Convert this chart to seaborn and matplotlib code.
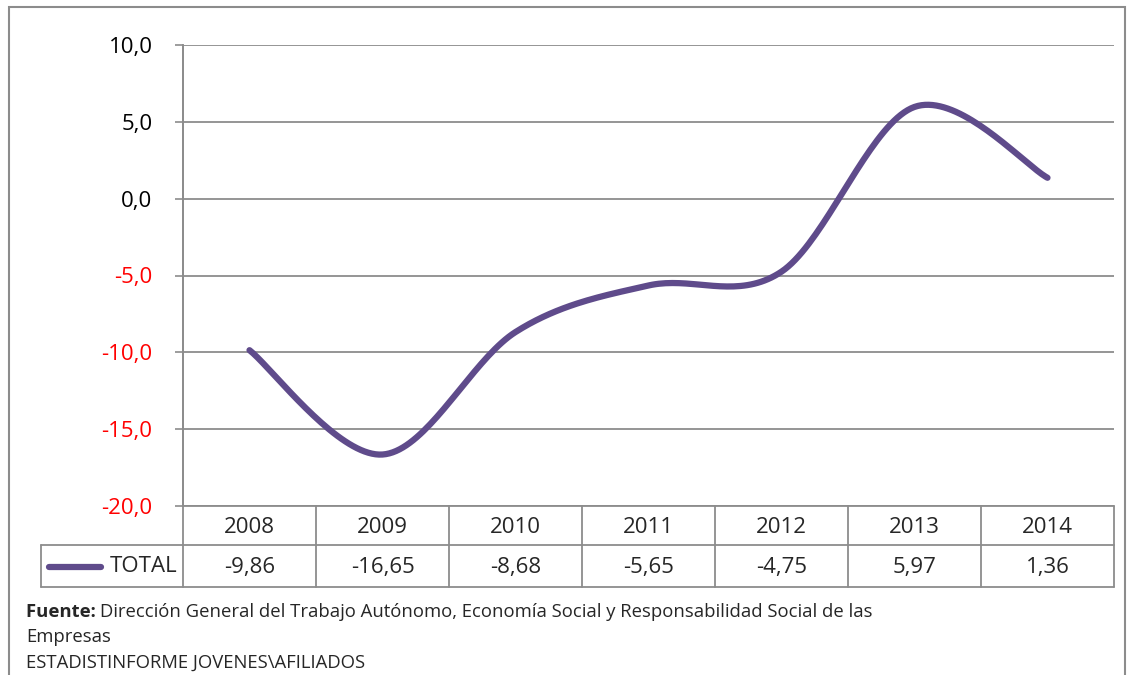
import numpy as np
import pandas as pd
import matplotlib
matplotlib.use("Agg")
import matplotlib.pyplot as plt
from matplotlib.lines import Line2D
from matplotlib.patches import Rectangle
import seaborn as sns

# datos
years = ["2008", "2009", "2010", "2011", "2012", "2013", "2014"]
total = [-9.86, -16.65, -8.68, -5.65, -4.75, 5.97, 1.36]
yticks = [-20, -15, -10, -5, 0, 5, 10]
series_name = "TOTAL"

W, H = 1127, 675
LINE_COLOR = "#5F4B8B"
GRID = "#8C8C8C"
FS = 16
FS_NOTE = 13.3

sns.set_theme(style="white")
plt.rcParams["font.family"] = ["Open Sans", "DejaVu Sans"]


def fmt(v, nd):
    return f"{v:.{nd}f}".replace(".", ",")


def smooth(xs, ys, n=40):
    # Excel-like smoothed line (Catmull-Rom / Bezier, tangent = (P[i+1]-P[i-1])/6)
    P = np.column_stack([xs, ys]).astype(float)
    pts = []
    for i in range(len(P) - 1):
        p0 = P[i - 1] if i > 0 else P[i]
        p1, p2 = P[i], P[i + 1]
        p3 = P[i + 2] if i + 2 < len(P) else P[i + 1]
        c1 = p1 + (p2 - p0) / 6
        c2 = p2 - (p3 - p1) / 6
        t = np.linspace(0, 1, n)[:, None]
        seg = (1 - t) ** 3 * p1 + 3 * (1 - t) ** 2 * t * c1 + 3 * (1 - t) * t ** 2 * c2 + t ** 3 * p2
        pts.append(seg if i == 0 else seg[1:])
    return np.vstack(pts)


def fx(x):
    return x / W


def fy(y):
    return 1 - y / H


fig = plt.figure(figsize=(W / 100, H / 100), dpi=100)
ax = fig.add_axes([fx(183), fy(506), fx(1114) - fx(183), fy(45) - fy(506)])

curve = smooth(np.arange(len(total)), total)
df = pd.DataFrame({"x": curve[:, 0], "y": curve[:, 1]})
sns.lineplot(data=df, x="x", y="y", ax=ax, color=LINE_COLOR, linewidth=4.5,
             sort=False, estimator=None, solid_capstyle="round")

ax.set_xlim(-0.5, len(years) - 0.5)
ax.set_ylim(-20, 10)
ax.set_xticks([])
ax.set_xlabel("")
ax.set_ylabel("")
ax.set_yticks(yticks)
ax.set_yticklabels([fmt(v, 1) for v in yticks], fontsize=FS)
for lab, v in zip(ax.get_yticklabels(), yticks):
    lab.set_color("#FF0000" if v < 0 else "black")
ax.tick_params(axis="y", left=True, length=6, width=1.2, color=GRID, pad=16)
for y in yticks:
    ax.axhline(y, color=GRID, linewidth=1.3, zorder=0)
for s in ["top", "right", "bottom"]:
    ax.spines[s].set_visible(False)
ax.spines["left"].set_color(GRID)
ax.spines["left"].set_linewidth(1.3)


def fline(x0, y0, x1, y1):
    fig.add_artist(Line2D([fx(x0), fx(x1)], [fy(y0), fy(y1)], color=GRID,
                          linewidth=1.3, transform=fig.transFigure))


# tabla de datos
left, right, col_w = 183, 1114, (1114 - 183) / 7
r0, r1, r2 = 506, 545, 587
fline(left, r0, right, r0)
fline(41, r1, right, r1)
fline(41, r2, right, r2)
fline(41, r1, 41, r2)
for i in range(len(years) + 1):
    x = left + i * col_w
    fline(x, r0 if i > 0 else 45, x, r2)
for i, (yr, v) in enumerate(zip(years, total)):
    cx = left + (i + 0.5) * col_w
    fig.text(fx(cx), fy((r0 + r1) / 2 + 2), yr, ha="center", va="center", fontsize=FS)
    fig.text(fx(cx), fy((r1 + r2) / 2 + 1), fmt(v, 2), ha="center", va="center", fontsize=FS)
fig.text(fx(177), fy((r1 + r2) / 2 + 1), series_name, ha="right", va="center", fontsize=FS)
fig.add_artist(Line2D([fx(49), fx(101)], [fy(567), fy(567)], color=LINE_COLOR,
                      linewidth=4.5, solid_capstyle="round", transform=fig.transFigure))

# borde del gráfico
fig.add_artist(Rectangle((fx(9), fy(700)), fx(1125) - fx(9), fy(7) - fy(700),
                         fill=False, edgecolor=GRID, linewidth=1.5,
                         transform=fig.transFigure))

# fuente
t = fig.text(fx(26), fy(612), "Fuente: ", fontsize=FS_NOTE, fontweight="bold", va="center")
fig.canvas.draw()
bb = t.get_window_extent()
fig.text(bb.x1 / W, fy(612),
         "Dirección General del Trabajo Autónomo, Economía Social y Responsabilidad Social de las",
         fontsize=FS_NOTE, va="center")
fig.text(fx(26), fy(637), "Empresas", fontsize=FS_NOTE, va="center")
fig.text(fx(26), fy(663), "ESTADISTINFORME JOVENES\\AFILIADOS", fontsize=FS_NOTE, va="center")

fig.savefig("out.png", dpi=100)
